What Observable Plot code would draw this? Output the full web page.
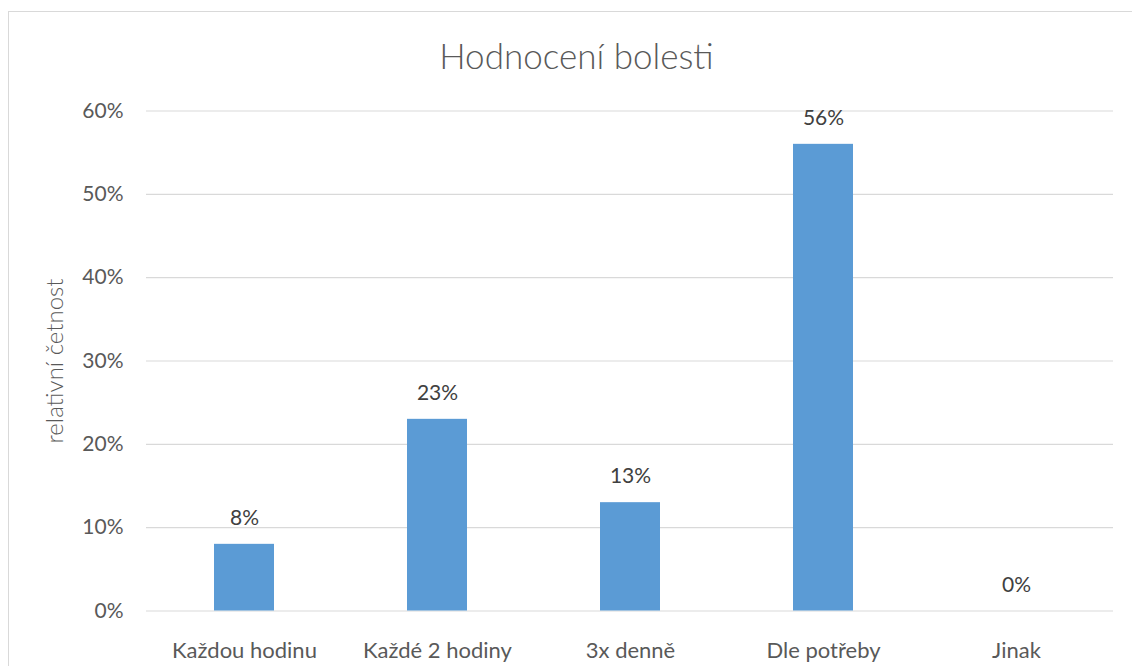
<!DOCTYPE html>
<html>
<head>
<meta charset="utf-8">
<script src="https://cdn.jsdelivr.net/npm/d3@7"></script>
<script src="https://cdn.jsdelivr.net/npm/@observablehq/plot@0.6"></script>
<style>
  html, body { margin: 0; padding: 0; background: #fff; overflow: hidden; }
  #wrap { position: relative; width: 1132px; height: 666px; }
  #border { position: absolute; left: 8px; top: 11px; width: 1200px; height: 700px; border: 1px solid #d9d9d9; box-sizing: border-box; }
  #chart { position: absolute; left: 0; top: 0; }
</style>
</head>
<body>
<div id="wrap"><div id="border"></div><div id="chart"></div></div>
<script>
const title = "Hodnocení bolesti";
const yLabel = "relativní četnost";
const categories = ["Každou hodinu", "Každé 2 hodiny", "3x denně", "Dle potřeby", "Jinak"];
const values = [0.08, 0.23, 0.13, 0.56, 0.00];
const yTicks = [0, 0.1, 0.2, 0.3, 0.4, 0.5, 0.6];

const data = categories.map((c, i) => ({category: c, value: values[i]}));
const font = "Lato, 'Open Sans', sans-serif";
const pct = d3.format(".0%");

const chart = Plot.plot({
  width: 1132,
  height: 666,
  marginLeft: 146,
  marginRight: 19,
  marginTop: 110.5,
  marginBottom: 55.5,
  style: {fontFamily: font, color: "#595959", background: "transparent", overflow: "visible"},
  x: {domain: categories, paddingInner: 0.69, paddingOuter: 0.345, label: null},
  y: {domain: [0, 0.6], label: null},
  marks: [
    Plot.ruleY(yTicks, {stroke: "#d9d9d9", strokeWidth: 1.2}),
    Plot.barY(data, {x: "category", y: "value", fill: "#5b9bd5"}),
    Plot.text(data, {x: "category", y: "value", text: d => pct(d.value), dy: -26, fill: "#404040", fontSize: 21, lineAnchor: "middle"}),
    Plot.axisX({tickSize: 0, tickPadding: 31, fontSize: 22, fill: "#595959", label: null}),
    Plot.axisY({ticks: yTicks, tickFormat: pct, tickSize: 0, tickPadding: 23, fontSize: 21, fill: "#595959", label: null}),
    Plot.text([yLabel], {frameAnchor: "left", dx: -91, rotate: -90, textAnchor: "middle", fontSize: 24, fontWeight: 300, fill: "#595959", lineAnchor: "middle"}),
    Plot.text([title], {frameAnchor: "top", dx: -53.5, dy: -53.5, fontSize: 35, fontWeight: 300, fill: "#595959", lineAnchor: "middle"})
  ]
});
document.getElementById("chart").appendChild(chart);
</script>
</body>
</html>
